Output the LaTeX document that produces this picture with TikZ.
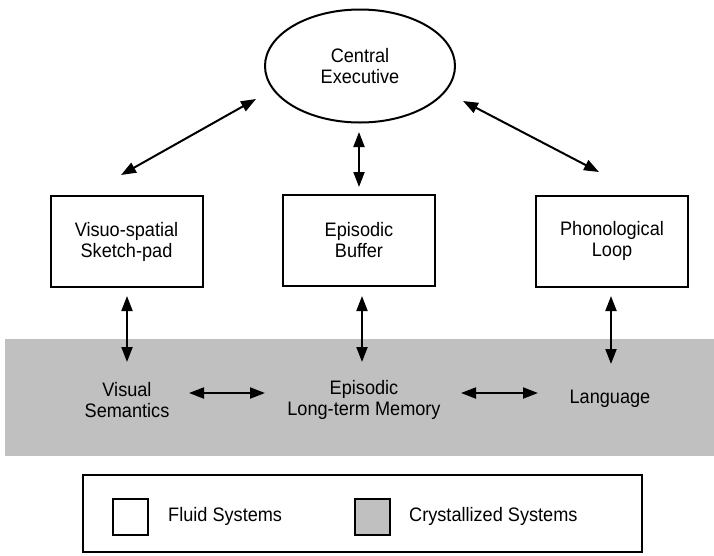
\documentclass[tikz,border=0pt]{standalone}
\usepackage{fontspec}
\setmainfont{Liberation Sans}[FakeStretch=0.93]
\usetikzlibrary{arrows.meta,shapes.geometric}
\definecolor{crys}{RGB}{192,192,192}
\begin{document}
\begin{tikzpicture}[x=1pt,y=-1pt,
  txt/.style={align=center,font=\fontsize{19.5}{21}\selectfont,inner sep=0pt},
  fluidbox/.style={draw,line width=2pt,fill=white,minimum width=152pt,minimum height=91pt,
    align=center,font=\fontsize{19.5}{21}\selectfont},
  conn/.style={line width=2pt,{Triangle[length=15pt,width=11pt]}-{Triangle[length=15pt,width=11pt]}},
  legsq/.style={draw,line width=2pt,minimum width=35pt,minimum height=36pt,inner sep=0pt}]
\useasboundingbox (0,0) rectangle (714,555);
% crystallized band
\fill[crys] (5,339) rectangle (714,456);
% central executive
\node[draw,ellipse,line width=2pt,minimum width=190pt,minimum height=113pt,
  align=center,font=\fontsize{19.5}{21}\selectfont] (ce) at (360,66) {Central\\Executive};
% fluid boxes
\node[fluidbox] (vs) at (126.5,241.5) {Visuo-spatial\\Sketch-pad};
\node[fluidbox] (eb) at (359,240) {Episodic\\Buffer};
\node[fluidbox] (pl) at (612,241) {Phonological\\Loop};
% crystallized labels
\node[txt] (vsem) at (127,400) {Visual\\Semantics};
\node[txt] (eltm) at (364,400) {Episodic\\Long-term Memory};
\node[txt] (lang) at (610,399) {Language};
% arrow end coordinates
\coordinate (a1s) at (121,175); \coordinate (a1e) at (256,99);
\coordinate (a2s) at (359,132); \coordinate (a2e) at (359,187);
\coordinate (a3s) at (463,101); \coordinate (a3e) at (599,172);
\coordinate (b1s) at (127,296); \coordinate (b1e) at (127,362);
\coordinate (b2s) at (362,296); \coordinate (b2e) at (362,362);
\coordinate (b3s) at (611,296); \coordinate (b3e) at (611,364);
\coordinate (h1s) at (189,393); \coordinate (h1e) at (265,393);
\coordinate (h2s) at (461,393); \coordinate (h2e) at (538,393);
\draw[conn] (a1s) -- (a1e);
\draw[conn] (a2s) -- (a2e);
\draw[conn] (a3s) -- (a3e);
\draw[conn] (b1s) -- (b1e);
\draw[conn] (b2s) -- (b2e);
\draw[conn] (b3s) -- (b3e);
\draw[conn] (h1s) -- (h1e);
\draw[conn] (h2s) -- (h2e);
% legend
\draw[line width=2pt] (83,475) rectangle (642,552);
\node[legsq,fill=white] (lf) at (130.5,517) {};
\node[legsq,fill=crys] (lc) at (372.5,517) {};
\node[txt,anchor=west] (lft) at (168,516) {Fluid Systems};
\node[txt,anchor=west] (lct) at (409,516) {Crystallized Systems};
\end{tikzpicture}
\end{document}
